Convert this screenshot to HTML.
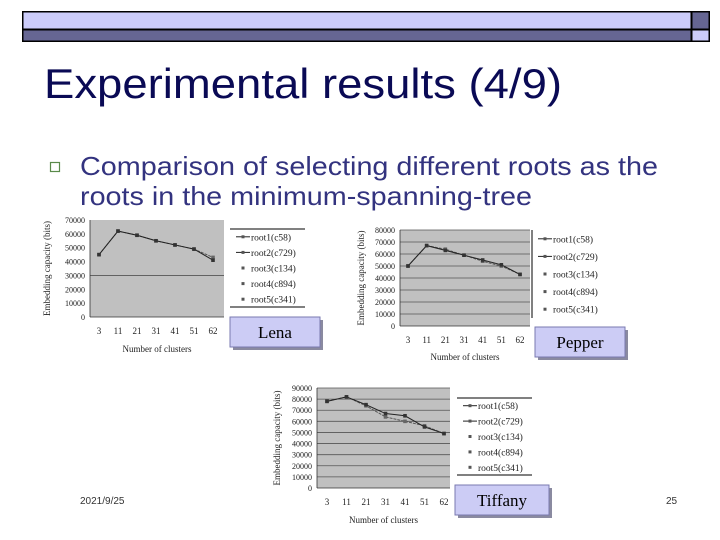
<!DOCTYPE html>
<html><head><meta charset="utf-8"><style>
html,body{margin:0;padding:0;background:#fff;}
svg{display:block;}
text{font-family:"Liberation Serif",serif;}
.s{font-family:"Liberation Sans",sans-serif;}
</style></head><body>
<svg id="slide" width="720" height="540" viewBox="0 0 720 540">
  <g>
    <rect x="22" y="11" width="688" height="31" fill="#000" />
    <rect x="23.5" y="12.5" width="667" height="16" fill="#ccccfa"/>
    <rect x="23.5" y="30.5" width="667" height="10" fill="#666693"/>
    <rect x="692.5" y="12.5" width="16" height="16" fill="#666693"/>
    <rect x="692.5" y="30.5" width="16" height="10" fill="#ccccfa"/>
  </g>
  <text class="s" x="44" y="98" font-size="42" fill="#0a0a55" textLength="518" lengthAdjust="spacingAndGlyphs">Experimental results (4/9)</text>
  <rect x="50.5" y="162.5" width="9" height="9" fill="none" stroke="#5a8a4a" stroke-width="1.2"/>
  <text class="s" x="80" y="175" font-size="26" fill="#33337f" textLength="578" lengthAdjust="spacingAndGlyphs">Comparison of selecting different roots as the</text>
  <text class="s" x="80" y="205" font-size="26" fill="#33337f" textLength="452" lengthAdjust="spacingAndGlyphs">roots in the minimum-spanning-tree</text>
  <text class="s" x="80" y="504" font-size="10" fill="#333">2021/9/25</text>
  <text class="s" x="666" y="504" font-size="10" fill="#333">25</text>
  <g id="charts"></g>
</svg>
<script>
const categories = ["3","11","21","31","41","51","62"];
const lenaValues = [45000, 62000, 59000, 55000, 52000, 49000, 41000];
const lenaValues2 = [45000, 62000, 59000, 55000, 52000, 49000, 43000];
const pepperValues = [50000, 67000, 63000, 59000, 55000, 51000, 43000];
const pepperValues2 = [50000, 67000, 64000, 59000, 54000, 50000, 43000];
const tiffanyValues = [78000, 82000, 75000, 67000, 65000, 55000, 49000];
const tiffanyValues2 = [78000, 82000, 74000, 64000, 60000, 56000, 49000];
const legendLabels = ["root1(c58)","root2(c729)","root3(c134)","root4(c894)","root5(c341)"];
const lenaTicks = ["0","10000","20000","30000","40000","50000","60000","70000"];
const pepperTicks = ["0","10000","20000","30000","40000","50000","60000","70000","80000"];
const tiffanyTicks = ["0","10000","20000","30000","40000","50000","60000","70000","80000","90000"];

const NS = "http://www.w3.org/2000/svg";
const root = document.getElementById('charts');
function mk(tag, attrs, parent, txt){
  const e = document.createElementNS(NS, tag);
  for (const k in attrs) e.setAttribute(k, attrs[k]);
  if (txt !== undefined) e.textContent = txt;
  (parent||root).appendChild(e);
  return e;
}

function chart(cfg){
  const g = mk('g', {});
  
  
  const {x0,x1,y0,y1,max,ticks,xs} = cfg;
  const yS = v => y1 - (v/max)*(y1-y0);
  const xS = i => xs[0] + i*(xs[1]-xs[0])/(categories.length-1);
  const bg = mk('rect', {x:x0,y:y0,width:x1-x0,height:y1-y0,fill:'#c0c0c0'}, g);
  
  
  ticks.forEach((t,i)=>{
    const v = (+t);
    const yy = yS(v);
    if (cfg.allGrid ? (v>0) : (v===30000)) mk('line',{x1:x0,x2:x1,y1:yy,y2:yy,stroke:'#555','stroke-width':0.8},g);
    const tl = mk('text',{x:x0-5,y:yy+3,'font-size':8,'text-anchor':'end',fill:'#222'},g,t);
    
    
  });
  mk('line',{x1:x0,x2:x0,y1:y0,y2:y1,stroke:'#333','stroke-width':0.8},g);
  mk('line',{x1:x0,x2:x1,y1:y1,y2:y1,stroke:'#333','stroke-width':0.8},g);
  categories.forEach((c,i)=>{
    const xl = mk('text',{x:xS(i),y:y1+17,'font-size':9,'text-anchor':'middle',fill:'#222'},g,c);
    
    
  });
  [cfg.v2, cfg.v1].forEach((vals,si)=>{
    const pts = vals.map((v,i)=>xS(i)+','+yS(v)).join(' ');
    const pl = mk('polyline',{points:pts,fill:'none',stroke:si?'#222':'#555','stroke-width':1,'stroke-dasharray':si?'':'3,1'},g);
    
    
    vals.forEach((v,i)=>{
      const m = mk('rect',{x:xS(i)-1.8,y:yS(v)-1.8,width:3.6,height:3.6,fill:si?'#333':'#666'},g);
      
      
    });
  });
  const yt = mk('text',{transform:`translate(${cfg.ytx},${(y0+y1)/2}) rotate(-90)`,'font-size':9,'text-anchor':'middle',fill:'#222'},g,'Embedding capacity (bits)');
  
  
  const xt = mk('text',{x:(x0+x1)/2,y:cfg.xty,'font-size':9,'text-anchor':'middle',fill:'#222'},g,'Number of clusters');
  
  
  const L = cfg.leg;
  const lg = mk('g',{},g);
  
  
  if (cfg.legLeft) mk('line',{x1:L.x,x2:L.x,y1:L.y,y2:L.y+L.h,stroke:'#000','stroke-width':1},lg);
  else {
    mk('line',{x1:L.x,x2:L.x+L.w,y1:L.y,y2:L.y,stroke:'#000','stroke-width':1},lg);
    mk('line',{x1:L.x,x2:L.x+L.w,y1:L.y+L.h,y2:L.y+L.h,stroke:'#000','stroke-width':1},lg);
  }
  legendLabels.forEach((lab,i)=>{
    const yy = L.y + L.h*(i+0.5)/legendLabels.length;
    if (i<2) mk('line',{x1:L.x+6,x2:L.x+20,y1:yy,y2:yy,stroke:'#222','stroke-width':1},lg);
    mk('rect',{x:L.x+11.5,y:yy-1.5,width:3,height:3,fill:'#555'},lg);
    const le = mk('text',{x:L.x+21,y:yy+3.5,'font-size':9.5,fill:'#222'},lg,lab);
    
    
  });
  const B = cfg.box;
  const bx = mk('g',{},g);
  
  
  mk('rect',{x:B.x+3,y:B.y+3,width:B.w,height:B.h,fill:'#8a8aa0'},bx);
  mk('rect',{x:B.x,y:B.y,width:B.w,height:B.h,fill:'#ccccf5',stroke:'#7a7ab0','stroke-width':1},bx);
  mk('text',{x:B.x+B.w/2,y:B.y+B.h/2+6,'font-size':17,'text-anchor':'middle',fill:'#000'},bx,cfg.title);
}

chart({name:'lena',title:'Lena',x0:90,x1:224,y0:220,y1:317,max:70000,ticks:lenaTicks,xs:[99,213],
  v1:lenaValues,v2:lenaValues2,ytx:50,xty:352,allGrid:false,
  leg:{x:230,y:229,w:75,h:78},legLeft:false,box:{x:230,y:317,w:90,h:30}});
chart({name:'pepper',title:'Pepper',x0:400,x1:530,y0:230,y1:326,max:80000,ticks:pepperTicks,xs:[408,520],
  v1:pepperValues,v2:pepperValues2,ytx:364,xty:360,allGrid:true,
  leg:{x:532,y:230,w:76,h:88},legLeft:true,box:{x:535,y:327,w:90,h:30}});
chart({name:'tiffany',title:'Tiffany',x0:317,x1:450,y0:388,y1:488,max:90000,ticks:tiffanyTicks,xs:[327,444],
  v1:tiffanyValues,v2:tiffanyValues2,ytx:280,xty:523,allGrid:true,
  leg:{x:457,y:398,w:75,h:77},legLeft:false,box:{x:455,y:485,w:94,h:30}});
</script>
</body></html>
